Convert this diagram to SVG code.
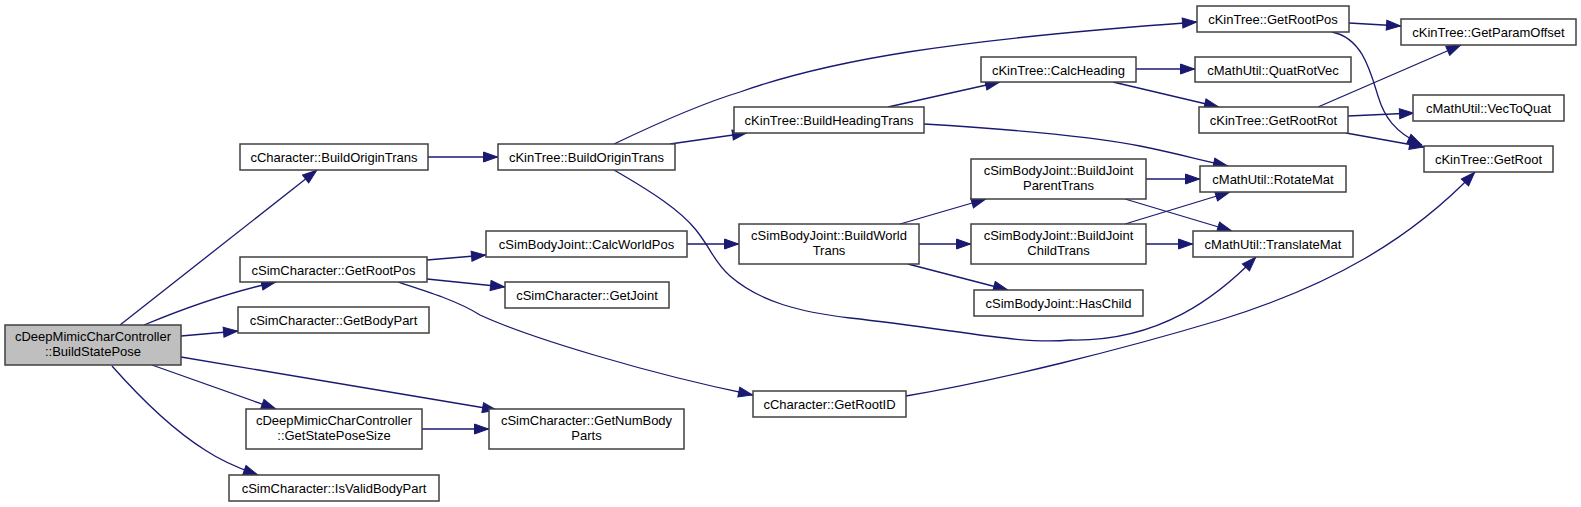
<svg xmlns="http://www.w3.org/2000/svg" width="1581" height="507" viewBox="0 0 1581 507">
<style>
.n rect{fill:#fff;stroke:#404040;stroke-width:1.5}
.n.root rect{fill:#bfbfbf}
.n text{font-family:"Liberation Sans",Arial,sans-serif;font-size:13px;fill:#000;text-anchor:middle}
.e path{fill:none;stroke:#191970;stroke-width:1.3;marker-end:url(#ah)}
</style>
<defs>
<marker id="ah" markerUnits="userSpaceOnUse" viewBox="-1 -1 17 12" refX="14.5" refY="5" markerWidth="17" markerHeight="12" orient="auto">
<path d="M0,0 L14,5 L0,10 Z" fill="#191970" stroke="#191970" stroke-width="1"/>
</marker>
</defs>
<rect width="1581" height="507" fill="#fff"/>
<g id="edges" class="e">
<path d="M120,325 L317,170"/>
<path d="M144,325 C180,310 230,292 276,282"/>
<path d="M181,336 L238,331"/>
<path d="M181,357 L497,410"/>
<path d="M152,365 L276,409"/>
<path d="M112,366 C135,392 170,428 205,450 C220,460 238,468 258,475"/>
<path d="M422,429 L489,429"/>
<path d="M428,157 L498,157"/>
<path d="M427,260 L486,255"/>
<path d="M427,279 L505,287"/>
<path d="M398,282 C426,291 458,301 480,315 C530,338 650,374 753,395"/>
<path d="M614,144 C660,122 700,104 740,92 C830,60 950,40 1197,22"/>
<path d="M670,144 L747,133"/>
<path d="M614,170 C652,192 680,210 696,230 C712,250 714,262 730,276 C760,302 800,312 850,318 C960,330 1020,345 1070,340 C1160,342 1218,296 1256,257"/>
<path d="M888,107 L1000,82"/>
<path d="M924,124 C990,128 1080,134 1140,146 C1175,153 1200,160 1228,166"/>
<path d="M1136,69 L1195,69"/>
<path d="M1113,82 L1219,107"/>
<path d="M1349,23 L1401,26"/>
<path d="M1332,32 C1362,38 1370,70 1378,96 C1384,116 1394,132 1422,145"/>
<path d="M1318,107 L1461,45"/>
<path d="M1348,116 L1414,113"/>
<path d="M1346,133 L1424,147"/>
<path d="M906,396 C1000,380 1120,350 1220,320 C1330,286 1410,240 1475,172"/>
<path d="M687,244 L739,244"/>
<path d="M900,224 L986,199"/>
<path d="M919,244 L971,244"/>
<path d="M908,264 L1008,290"/>
<path d="M1146,179 L1200,179"/>
<path d="M1125,199 L1232,231"/>
<path d="M1125,224 L1230,192"/>
<path d="M1146,244 L1193,244"/>
</g>
<g id="node1" class="n root"><rect x="5" y="325" width="176" height="40"/><text x="93" y="341">cDeepMimicCharController</text><text x="93" y="356">::BuildStatePose</text></g>
<g id="node2" class="n"><rect x="240" y="144" width="188" height="26"/><text x="334" y="162">cCharacter::BuildOriginTrans</text></g>
<g id="node3" class="n"><rect x="240" y="257" width="187" height="25"/><text x="333.5" y="274.5">cSimCharacter::GetRootPos</text></g>
<g id="node4" class="n"><rect x="238" y="307" width="191" height="26"/><text x="333.5" y="325">cSimCharacter::GetBodyPart</text></g>
<g id="node5" class="n"><rect x="246" y="409" width="176" height="40"/><text x="334" y="425">cDeepMimicCharController</text><text x="334" y="440">::GetStatePoseSize</text></g>
<g id="node6" class="n"><rect x="229" y="475" width="210" height="26"/><text x="334" y="493">cSimCharacter::IsValidBodyPart</text></g>
<g id="node7" class="n"><rect x="498" y="144" width="177" height="26"/><text x="586.5" y="162">cKinTree::BuildOriginTrans</text></g>
<g id="node8" class="n"><rect x="734" y="107" width="190" height="26"/><text x="829" y="125">cKinTree::BuildHeadingTrans</text></g>
<g id="node9" class="n"><rect x="486" y="231" width="201" height="26"/><text x="586.5" y="249">cSimBodyJoint::CalcWorldPos</text></g>
<g id="node10" class="n"><rect x="505" y="282" width="164" height="26"/><text x="587" y="300">cSimCharacter::GetJoint</text></g>
<g id="node11" class="n"><rect x="739" y="224" width="180" height="40"/><text x="829" y="240">cSimBodyJoint::BuildWorld</text><text x="829" y="255">Trans</text></g>
<g id="node12" class="n"><rect x="489" y="409" width="195" height="40"/><text x="586.5" y="425">cSimCharacter::GetNumBody</text><text x="586.5" y="440">Parts</text></g>
<g id="node13" class="n"><rect x="753" y="391" width="153" height="26"/><text x="829.5" y="409">cCharacter::GetRootID</text></g>
<g id="node14" class="n"><rect x="1197" y="6" width="152" height="26"/><text x="1273" y="24">cKinTree::GetRootPos</text></g>
<g id="node15" class="n"><rect x="1401" y="19" width="175" height="26"/><text x="1488.5" y="37">cKinTree::GetParamOffset</text></g>
<g id="node16" class="n"><rect x="981" y="57" width="155" height="25"/><text x="1058.5" y="74.5">cKinTree::CalcHeading</text></g>
<g id="node17" class="n"><rect x="1195" y="57" width="156" height="25"/><text x="1273" y="74.5">cMathUtil::QuatRotVec</text></g>
<g id="node18" class="n"><rect x="1199" y="107" width="149" height="26"/><text x="1273.5" y="125">cKinTree::GetRootRot</text></g>
<g id="node19" class="n"><rect x="1413" y="95" width="151" height="26"/><text x="1488.5" y="113">cMathUtil::VecToQuat</text></g>
<g id="node20" class="n"><rect x="1424" y="146" width="129" height="26"/><text x="1488.5" y="164">cKinTree::GetRoot</text></g>
<g id="node21" class="n"><rect x="971" y="159" width="175" height="40"/><text x="1058.5" y="175">cSimBodyJoint::BuildJoint</text><text x="1058.5" y="190">ParentTrans</text></g>
<g id="node22" class="n"><rect x="1200" y="166" width="146" height="26"/><text x="1273" y="184">cMathUtil::RotateMat</text></g>
<g id="node23" class="n"><rect x="971" y="224" width="175" height="40"/><text x="1058.5" y="240">cSimBodyJoint::BuildJoint</text><text x="1058.5" y="255">ChildTrans</text></g>
<g id="node24" class="n"><rect x="1193" y="231" width="160" height="26"/><text x="1273" y="249">cMathUtil::TranslateMat</text></g>
<g id="node25" class="n"><rect x="974" y="290" width="169" height="26"/><text x="1058.5" y="308">cSimBodyJoint::HasChild</text></g>
</svg>
